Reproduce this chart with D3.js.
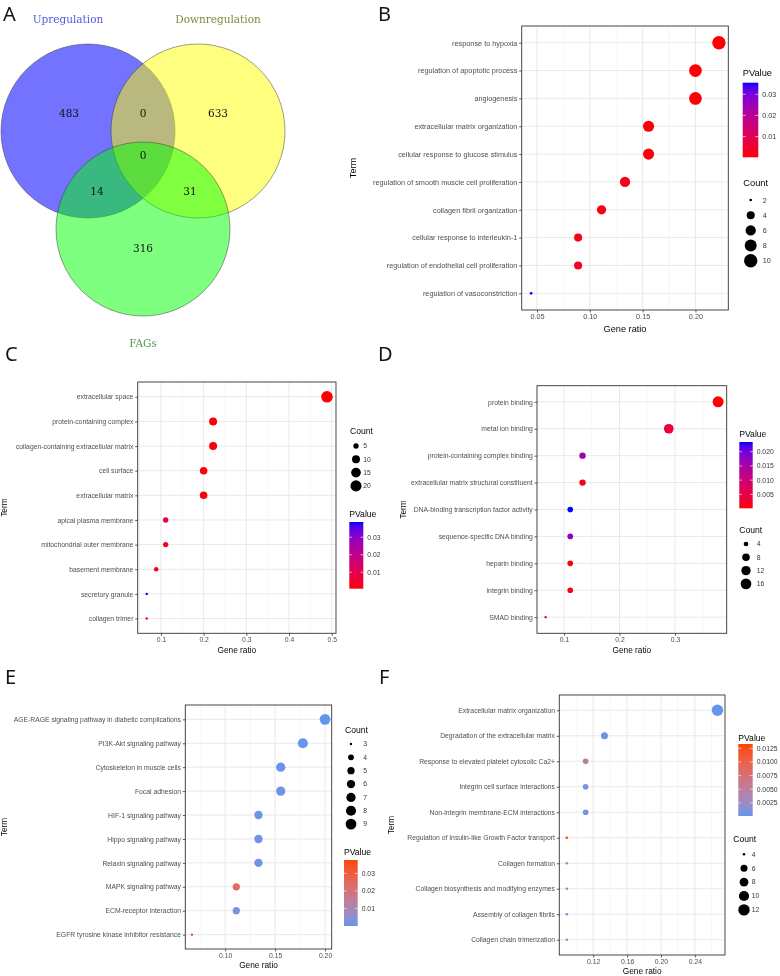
<!DOCTYPE html>
<html><head><meta charset="utf-8">
<script src="https://cdn.jsdelivr.net/npm/d3@7"></script>
<style>body{margin:0;background:#fff} svg{display:block;will-change:transform} svg text{opacity:0.99}</style>
</head><body>
<svg id="fig" width="780" height="976"></svg>
<script>
// ---------------- DATA ----------------
const vennSets = ["Upregulation", "Downregulation", "FAGs"];
const vennRegions = ["Up", "Down", "FAGs", "Up&Down", "Up&FAGs", "Down&FAGs", "Up&Down&FAGs"];
const vennCounts = [483, 633, 316, 0, 14, 31, 0];

const bTerms = ["response to hypoxia","regulation of apoptotic process","angiogenesis","extracellular matrix organization","cellular response to glucose stimulus","regulation of smooth muscle cell proliferation","collagen fibril organization","cellular response to interleukin-1","regulation of endothelial cell proliferation","regulation of vasoconstriction"];
const bRatio = [0.2222,0.2,0.2,0.1556,0.1556,0.1333,0.1111,0.0889,0.0889,0.0444];
const bCount = [10,9,9,7,7,6,5,4,4,2];
const bPval = [0.0002,0.0005,0.0004,0.0008,0.001,0.002,0.0012,0.002,0.0025,0.0355];
const bXTicks = [0.05,0.10,0.15,0.20];
const bPTicks = [0.01,0.02,0.03];
const bCountBreaks = [2,4,6,8,10];

const cTerms = ["extracellular space","protein-containing complex","collagen-containing extracellular matrix","cell surface","extracellular matrix","apical plasma membrane","mitochondrial outer membrane","basement membrane","secretory granule","collagen trimer"];
const cRatio = [0.4889,0.2222,0.2222,0.2,0.2,0.1111,0.1111,0.0889,0.0667,0.0667];
const cCount = [22,10,10,9,9,5,5,4,3,3];
const cPval = [0.0006,0.0008,0.001,0.0012,0.001,0.008,0.003,0.004,0.0387,0.006];
const cXTicks = [0.1,0.2,0.3,0.4,0.5];
const cPTicks = [0.01,0.02,0.03];
const cCountBreaks = [5,10,15,20];

const dTerms = ["protein binding","metal ion binding","protein-containing complex binding","extracellular matrix structural constituent","DNA-binding transcription factor activity","sequence-specific DNA binding","heparin binding","integrin binding","SMAD binding"];
const dRatio = [0.3778,0.2889,0.1333,0.1333,0.1111,0.1111,0.1111,0.1111,0.0667];
const dCount = [17,13,6,6,5,5,5,5,3];
const dPval = [0.0001,0.004,0.016,0.0015,0.0234,0.018,0.0008,0.0008,0.006];
const dXTicks = [0.1,0.2,0.3];
const dPTicks = [0.005,0.010,0.015,0.020];
const dCountBreaks = [4,8,12,16];

const eTerms = ["AGE-RAGE signaling pathway in diabetic complications","PI3K-Akt signaling pathway","Cytoskeleton in muscle cells","Focal adhesion","HIF-1 signaling pathway","Hippo signaling pathway","Relaxin signaling pathway","MAPK signaling pathway","ECM-receptor interaction","EGFR tyrosine kinase inhibitor resistance"];
const eRatio = [0.2,0.1778,0.1556,0.1556,0.1333,0.1333,0.1333,0.1111,0.1111,0.0667];
const eCount = [9,8,7,7,6,6,6,5,5,3];
const ePval = [0.00001,0.0003,0.0004,0.001,0.0009,0.001,0.0012,0.025,0.002,0.0376];
const eXTicks = [0.10,0.15,0.20];
const ePTicks = [0.01,0.02,0.03];
const eCountBreaks = [3,4,5,6,7,8,9];

const fTerms = ["Extracellular matrix organization","Degradation of the extracellular matrix","Response to elevated platelet cytosolic Ca2+","Integrin cell surface interactions","Non-integrin membrane-ECM interactions","Regulation of Insulin-like Growth Factor transport","Collagen formation","Collagen biosynthesis and modifying enzymes","Assembly of collagen fibrils","Collagen chain trimerization"];
const fRatio = [0.2667,0.1333,0.1111,0.1111,0.1111,0.0889,0.0889,0.0889,0.0889,0.0889];
const fCount = [12,6,5,5,5,4,4,4,4,4];
const fPval = [0.00008,0.0003,0.005,0.0008,0.0008,0.0133,0.0015,0.0012,0.001,0.001];
const fXTicks = [0.12,0.16,0.20,0.24];
const fPTicks = [0.0025,0.0050,0.0075,0.0100,0.0125];
const fCountBreaks = [4,6,8,10,12];

// ---------------- DRAW ----------------
const svg = d3.select("#fig");
const SANS = "'Liberation Sans', Arial, sans-serif";
const SERIF = "'DejaVu Serif', 'Liberation Serif', serif";

// panel letters
const letters = [["A",3,21],["B",378,21],["C",5,361],["D",378,361],["E",5,684],["F",379,684]];
svg.selectAll("text.letter").data(letters).join("text")
  .attr("class","letter").attr("x",d=>d[1]).attr("y",d=>d[2])
  .attr("font-family","'Noto Sans', 'Open Sans', sans-serif").attr("font-size",20)
  .attr("fill","#111").text(d=>d[0]);

// ---- Venn ----
(function(){
  const L = {r: 87, centers: [[88,131],[198,131],[143,229]],
    fills: ["#0000ff","#ffff00","#00ff00"], opac: [0.55,0.5,0.5],
    setLabelPos: [[68,23],[218,23],[143,347]], setLabelCol: ["#5656e0","#86863a","#4c9a4c"],
    regionPos: [[69,117],[218,117],[143,252],[143,117],[97,195],[190,195],[143,159]]};
  const g = svg.append("g");
  g.selectAll("circle").data(vennSets).join("circle")
    .attr("cx",(d,i)=>L.centers[i][0]).attr("cy",(d,i)=>L.centers[i][1]).attr("r",L.r)
    .attr("fill",(d,i)=>L.fills[i]).attr("fill-opacity",(d,i)=>L.opac[i])
    .attr("stroke","#333").attr("stroke-width",0.6).attr("stroke-opacity",0.8);
  g.selectAll("text.set").data(vennSets).join("text").attr("class","set")
    .attr("x",(d,i)=>L.setLabelPos[i][0]).attr("y",(d,i)=>L.setLabelPos[i][1])
    .attr("text-anchor","middle").attr("font-family",SERIF).attr("font-size",10.5)
    .attr("fill",(d,i)=>L.setLabelCol[i]).text(d=>d);
  g.selectAll("text.num").data(vennCounts).join("text").attr("class","num")
    .attr("x",(d,i)=>L.regionPos[i][0]).attr("y",(d,i)=>L.regionPos[i][1])
    .attr("text-anchor","middle").attr("font-family",SERIF).attr("font-size",10.5)
    .attr("fill","#111").text(d=>d);
})();

// ---- dot plots ----
let gradId = 0;
function dotPlot(data, cfg){
  const g = svg.append("g");
  const {l,r,t,b} = cfg.panel;
  const [xmin,xmax] = d3.extent(data.ratio);
  const ex = (xmax-xmin)*0.05;
  const x = d3.scaleLinear().domain([xmin-ex, xmax+ex]).range([l,r]);
  const y = d3.scalePoint().domain(data.terms).range([t,b]).padding(0.6);
  const [pmin,pmax] = d3.extent(data.pval);
  const col = d3.scaleLinear().domain([pmin,pmax]).range(cfg.colors).interpolate(d3.interpolateLab);
  const [cmin,cmax] = d3.extent(data.count);
  const tn = d3.scaleLinear().domain([cmin,cmax]).range([0,1]).clamp(true);
  const rs = d3.scaleLinear().domain([0,1]).range([cfg.rmin,cfg.rmax]);
  const R = v => rs(Math.sqrt(tn(v)));

  // grid
  const step = data.xTicks[1]-data.xTicks[0];
  const dom = x.domain();
  const minors = d3.range(-3, data.xTicks.length+3).map(i => data.xTicks[0] - step/2 + i*step)
     .filter(v => v > dom[0] && v < dom[1]);
  g.selectAll("line.mn").data(minors).join("line").attr("x1",x).attr("x2",x)
    .attr("y1",t).attr("y2",b).attr("stroke","#ededed").attr("stroke-width",0.5);
  g.selectAll("line.mjx").data(data.xTicks).join("line").attr("x1",x).attr("x2",x)
    .attr("y1",t).attr("y2",b).attr("stroke","#e6e6e6").attr("stroke-width",0.9);
  g.selectAll("line.mjy").data(data.terms).join("line").attr("y1",y).attr("y2",y)
    .attr("x1",l).attr("x2",r).attr("stroke","#e6e6e6").attr("stroke-width",0.9);

  // points
  const idx = d3.range(data.terms.length);
  g.selectAll("circle.pt").data(idx).join("circle")
    .attr("cx",i=>x(data.ratio[i])).attr("cy",i=>y(data.terms[i])).attr("r",i=>R(data.count[i]))
    .attr("fill",i=>col(data.pval[i]));

  // border
  g.append("rect").attr("x",l).attr("y",t).attr("width",r-l).attr("height",b-t)
    .attr("fill","none").attr("stroke","#333").attr("stroke-width",0.9);

  // axes
  const ax = g.append("g").attr("transform",`translate(0,${b})`)
    .call(d3.axisBottom(x).tickValues(data.xTicks).tickFormat(d3.format(cfg.xfmt)).tickSize(2.5).tickPadding(1.5));
  const ay = g.append("g").attr("transform",`translate(${l},0)`)
    .call(d3.axisLeft(y).tickSize(2.5).tickPadding(1.8));
  [ax,ay].forEach(a=>{
    a.select(".domain").remove();
    a.selectAll(".tick line").attr("stroke","#333").attr("stroke-width",0.8);
    a.selectAll(".tick text").attr("fill","#4d4d4d").attr("font-size",cfg.fs).attr("font-family",SANS);
    a.attr("font-family",SANS);
  });

  // titles
  g.append("text").attr("x",(l+r)/2).attr("y",b+cfg.gy).attr("text-anchor","middle")
    .attr("font-family",SANS).attr("font-size",cfg.tfs).attr("fill","#000").text("Gene ratio");
  g.append("text").attr("transform",`translate(${cfg.termX},${(t+b)/2}) rotate(-90)`)
    .attr("text-anchor","middle").attr("dy","0.35em")
    .attr("font-family",SANS).attr("font-size",cfg.tfs).attr("fill","#000").text("Term");

  // colour legend
  const P = cfg.pLeg;
  g.append("text").attr("x",P.x).attr("y",P.ty).attr("dy","0.35em").attr("font-family",SANS)
    .attr("font-size",cfg.lfs).attr("fill","#000").text("PValue");
  const id = "grad"+(gradId++);
  const grad = svg.append("defs").append("linearGradient").attr("id",id)
    .attr("x1",0).attr("y1",1).attr("x2",0).attr("y2",0);
  grad.selectAll("stop").data(d3.range(0,1.0001,0.05)).join("stop")
    .attr("offset",d=>d).attr("stop-color",d=>col(pmin + d*(pmax-pmin)));
  g.append("rect").attr("x",P.x).attr("y",P.y0).attr("width",P.w).attr("height",P.y1-P.y0)
    .attr("fill",`url(#${id})`);
  const py = d3.scaleLinear().domain([pmin,pmax]).range([P.y1,P.y0]);
  const tk = g.append("g");
  tk.selectAll("line.a").data(data.pTicks).join("line").attr("x1",P.x).attr("x2",P.x+P.w*0.2)
    .attr("y1",py).attr("y2",py).attr("stroke","#fff").attr("stroke-width",0.6);
  tk.selectAll("line.b").data(data.pTicks).join("line").attr("x1",P.x+P.w*0.8).attr("x2",P.x+P.w)
    .attr("y1",py).attr("y2",py).attr("stroke","#fff").attr("stroke-width",0.6);
  g.selectAll("text.pl").data(data.pTicks).join("text").attr("x",P.x+P.w+4).attr("y",py)
    .attr("dy","0.35em").attr("font-family",SANS).attr("font-size",cfg.lls).attr("fill","#333")
    .text(d3.format(cfg.pfmt));

  // size legend
  const C = cfg.cLeg;
  g.append("text").attr("x",C.x).attr("y",C.ty).attr("dy","0.35em").attr("font-family",SANS)
    .attr("font-size",cfg.lfs).attr("fill","#000").text("Count");
  g.selectAll("circle.lg").data(data.countBreaks).join("circle")
    .attr("cx",C.cx).attr("cy",(d,i)=>C.y0+i*C.dy).attr("r",R).attr("fill","#000");
  g.selectAll("text.cl").data(data.countBreaks).join("text")
    .attr("x",C.lx).attr("y",(d,i)=>C.y0+i*C.dy).attr("dy","0.35em")
    .attr("font-family",SANS).attr("font-size",cfg.lls).attr("fill","#333").text(d=>d);
}

const RB = ["#ff0000","#0000ff"];
const BO = ["#6495ed","#ff4500"];

dotPlot({terms:bTerms, ratio:bRatio, count:bCount, pval:bPval, xTicks:bXTicks, pTicks:bPTicks, countBreaks:bCountBreaks},
  {panel:{l:521.7,r:728.3,t:26,b:310}, xfmt:".2f", pfmt:".2f", fs:7.3, tfs:9.2, lfs:9.3, lls:7.2, gy:21.5, termX:353,
   colors:RB, rmin:1.35, rmax:6.7,
   pLeg:{x:742.7, ty:73, y0:82.7, y1:157.3, w:15.6},
   cLeg:{x:743.3, ty:182.7, cx:750.7, lx:762.7, y0:200, dy:15.2}});

dotPlot({terms:cTerms, ratio:cRatio, count:cCount, pval:cPval, xTicks:cXTicks, pTicks:cPTicks, countBreaks:cCountBreaks},
  {panel:{l:137.7,r:336,t:382,b:633.3}, xfmt:".1f", pfmt:".2f", fs:6.8, tfs:8.3, lfs:8.6, lls:6.8, gy:19.5, termX:4.5,
   colors:RB, rmin:1.2, rmax:5.8,
   pLeg:{x:349.3, ty:514, y0:522, y1:588.7, w:14},
   cLeg:{x:350, ty:431, cx:356, lx:363.3, y0:446, dy:13.3}});

dotPlot({terms:dTerms, ratio:dRatio, count:dCount, pval:dPval, xTicks:dXTicks, pTicks:dPTicks, countBreaks:dCountBreaks},
  {panel:{l:537,r:726.7,t:385.7,b:633.3}, xfmt:".1f", pfmt:".3f", fs:6.8, tfs:8.3, lfs:8.6, lls:6.8, gy:19.5, termX:403,
   colors:RB, rmin:1.2, rmax:5.5,
   pLeg:{x:739.3, ty:434.3, y0:442, y1:508.3, w:13.4},
   cLeg:{x:739.3, ty:530, cx:746, lx:756.7, y0:544, dy:13.3}});

dotPlot({terms:eTerms, ratio:eRatio, count:eCount, pval:ePval, xTicks:eXTicks, pTicks:ePTicks, countBreaks:eCountBreaks},
  {panel:{l:185.3,r:331.7,t:705,b:949}, xfmt:".2f", pfmt:".2f", fs:6.8, tfs:8.3, lfs:8.6, lls:6.8, gy:19, termX:4.5,
   colors:BO, rmin:1.2, rmax:5.4,
   pLeg:{x:344, ty:851.7, y0:860, y1:926, w:13.7},
   cLeg:{x:345, ty:730, cx:351, lx:363.3, y0:744, dy:13.35}});

dotPlot({terms:fTerms, ratio:fRatio, count:fCount, pval:fPval, xTicks:fXTicks, pTicks:fPTicks, countBreaks:fCountBreaks},
  {panel:{l:559.3,r:725,t:695,b:955}, xfmt:".2f", pfmt:".4f", fs:6.8, tfs:8.3, lfs:8.6, lls:6.8, gy:19, termX:391,
   colors:BO, rmin:1.3, rmax:5.7,
   pLeg:{x:738.3, ty:738.3, y0:744, y1:816, w:14.4},
   cLeg:{x:733.3, ty:839, cx:744, lx:751.7, y0:854.3, dy:13.9}});
</script>
</body></html>
